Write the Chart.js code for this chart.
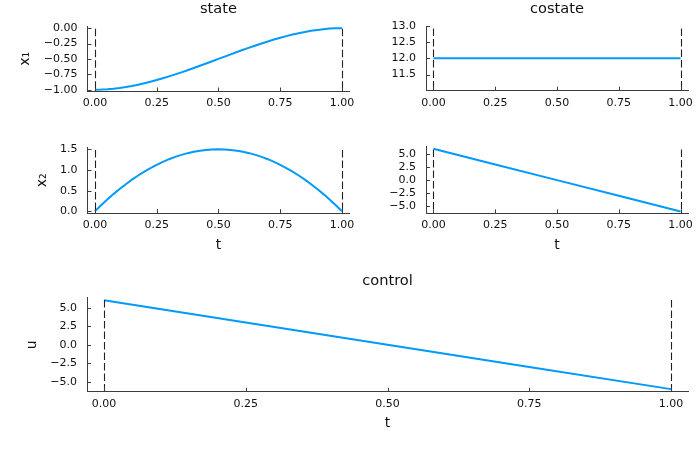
<!DOCTYPE html>
<html>
<head>
<meta charset="utf-8">
<script src="https://cdn.jsdelivr.net/npm/chart.js@4.4.0/dist/chart.umd.min.js"></script>
<style>
html,body{margin:0;padding:0;background:#ffffff;}
#wrap{position:relative;width:700px;height:450px;overflow:hidden;background:#fff;}
.box{position:absolute;}
canvas{display:block;}
</style>
</head>
<body>
<div id="wrap">
  <div class="box" style="left:0px;top:0px;width:360px;height:130px"><canvas id="cState1" width="360" height="130" style="width:360px;height:130px"></canvas></div>
  <div class="box" style="left:360px;top:0px;width:340px;height:130px"><canvas id="cCostate1" width="340" height="130" style="width:340px;height:130px"></canvas></div>
  <div class="box" style="left:0px;top:130px;width:360px;height:130px"><canvas id="cState2" width="360" height="130" style="width:360px;height:130px"></canvas></div>
  <div class="box" style="left:360px;top:130px;width:340px;height:130px"><canvas id="cCostate2" width="340" height="130" style="width:340px;height:130px"></canvas></div>
  <div class="box" style="left:0px;top:260px;width:700px;height:190px"><canvas id="cControl" width="700" height="190" style="width:700px;height:190px"></canvas></div>
</div>
<script>
// ---------------- data ----------------
const tState = [0, 0.025, 0.05, 0.075, 0.1, 0.125, 0.15, 0.175, 0.2, 0.225, 0.25, 0.275, 0.3, 0.325, 0.35, 0.375, 0.4, 0.425, 0.45, 0.475, 0.5,
                0.525, 0.55, 0.575, 0.6, 0.625, 0.65, 0.675, 0.7, 0.725, 0.75, 0.775, 0.8, 0.825, 0.85, 0.875, 0.9, 0.925, 0.95, 0.975, 1];
const x1Values = [-1, -0.9982, -0.9928, -0.984, -0.972, -0.957, -0.9393, -0.9188, -0.896, -0.8709, -0.8438, -0.8147, -0.784, -0.7518, -0.7183, -0.6836, -0.648, -0.6117, -0.5748, -0.5375, -0.5,
                  -0.4625, -0.4253, -0.3883, -0.352, -0.3164, -0.2818, -0.2482, -0.216, -0.1853, -0.1563, -0.1291, -0.104, -0.0812, -0.0608, -0.043, -0.028, -0.016, -0.0073, -0.0018, 0];
const x2Values = [0, 0.146, 0.285, 0.416, 0.54, 0.656, 0.765, 0.866, 0.96, 1.046, 1.125, 1.196, 1.26, 1.316, 1.365, 1.406, 1.44, 1.466, 1.485, 1.496, 1.5,
                  1.496, 1.485, 1.466, 1.44, 1.406, 1.365, 1.316, 1.26, 1.196, 1.125, 1.046, 0.96, 0.866, 0.765, 0.656, 0.54, 0.416, 0.285, 0.146, 0];
const tLinear = [0, 0.25, 0.5, 0.75, 1];
const p1Values = [12, 12, 12, 12, 12];
const p2Values = [6, 3, 0, -3, -6];
const uValues  = [6, 3, 0, -3, -6];
const vlineTimes = [0, 1];

const xLimits = [-0.03, 1.03];
const xTickValues = [0, 0.25, 0.5, 0.75, 1];
const xTickLabels = ['0.00', '0.25', '0.50', '0.75', '1.00'];

const x1Limits = [-1.03, 0.03];
const x1TickValues = [-1, -0.75, -0.5, -0.25, 0];
const x1TickLabels = ['\u22121.00', '\u22120.75', '\u22120.50', '\u22120.25', '0.00'];

const p1Limits = [11, 13];
const p1TickValues = [11.5, 12, 12.5, 13];
const p1TickLabels = ['11.5', '12.0', '12.5', '13.0'];

const x2Limits = [-0.045, 1.545];
const x2TickValues = [0, 0.5, 1, 1.5];
const x2TickLabels = ['0.0', '0.5', '1.0', '1.5'];

const p2Limits = [-6.36, 6.36];
const p2TickValues = [-5, -2.5, 0, 2.5, 5];
const p2TickLabels = ['\u22125.0', '\u22122.5', '0.0', '2.5', '5.0'];

const uLimits = [-6.36, 6.36];
const uTickValues = [-5, -2.5, 0, 2.5, 5];
const uTickLabels = ['\u22125.0', '\u22122.5', '0.0', '2.5', '5.0'];

// ---------------- styling ----------------
const FONT = "'DejaVu Sans', sans-serif";
const LINE_COLOR = '#009AFA';
const AXIS_COLOR = '#3c3c3c';
const TEXT_COLOR = '#111111';
Chart.defaults.color = TEXT_COLOR;
Chart.defaults.font.family = FONT;

const vlinePlugin = {
  id: 'vlines',
  afterDatasetsDraw(chart) {
    const { ctx, chartArea: a, scales: { x } } = chart;
    ctx.save();
    ctx.strokeStyle = '#222222';
    ctx.lineWidth = 1.1;
    ctx.setLineDash([7.5, 3]);
    ctx.lineDashOffset = 8;
    vlineTimes.forEach(t => {
      const px = Math.round(x.getPixelForValue(t)) + 0.5;
      ctx.beginPath();
      ctx.moveTo(px, a.top);
      ctx.lineTo(px, a.bottom);
      ctx.stroke();
    });
    ctx.restore();
  }
};

const inwardTicks = {
  id: 'inwardTicks',
  afterDraw(chart) {
    const { ctx, chartArea: a, scales: { x, y } } = chart;
    ctx.save();
    ctx.strokeStyle = AXIS_COLOR;
    ctx.lineWidth = 1;
    ctx.beginPath();
    x.ticks.forEach(t => {
      const px = Math.round(x.getPixelForValue(t.value)) + 0.5;
      ctx.moveTo(px, a.bottom);
      ctx.lineTo(px, a.bottom - 4);
    });
    y.ticks.forEach(t => {
      const py = Math.round(y.getPixelForValue(t.value)) + 0.5;
      ctx.moveTo(a.left, py);
      ctx.lineTo(a.left + 4, py);
    });
    ctx.stroke();
    ctx.restore();
  }
};

function makeChart(id, o) {
  const points = o.times.map((t, i) => ({ x: t, y: o.values[i] }));
  return new Chart(document.getElementById(id), {
    type: 'line',
    data: {
      datasets: [{
        data: points,
        borderColor: LINE_COLOR,
        borderWidth: 2,
        pointRadius: 0,
        fill: false,
        tension: 0
      }]
    },
    options: {
      responsive: false,
      animation: false,
      events: [],
      layout: { padding: { left: 0, right: o.padRight, top: o.padTop, bottom: 0 } },
      plugins: {
        legend: { display: false },
        tooltip: { enabled: false },
        title: {
          display: !!o.title,
          text: o.title || '',
          fullSize: false,
          color: TEXT_COLOR,
          font: { family: FONT, size: 14.6, weight: 'normal', lineHeight: 1.2 },
          padding: o.titlePad || { top: 0, bottom: 0 }
        }
      },
      scales: {
        x: {
          type: 'linear',
          min: xLimits[0],
          max: xLimits[1],
          grid: { display: false, drawTicks: false },
          border: { display: true, color: AXIS_COLOR, width: 1 },
          afterBuildTicks: s => { s.ticks = xTickValues.map(v => ({ value: v })); },
          afterFit: s => { s.height = o.xH; },
          ticks: {
            padding: o.xTickPad,
            color: TEXT_COLOR,
            font: { family: FONT, size: 11 },
            maxRotation: 0,
            autoSkip: false,
            callback: (v, i) => xTickLabels[i]
          },
          title: {
            display: !!o.xTitle,
            text: o.xTitle || '',
            color: TEXT_COLOR,
            font: { family: FONT, size: 14, lineHeight: 1.2 },
            padding: { top: 0, bottom: o.xTitlePadB || 0 }
          }
        },
        y: {
          type: 'linear',
          min: o.limits[0],
          max: o.limits[1],
          grid: { display: false, drawTicks: false },
          border: { display: true, color: AXIS_COLOR, width: 1 },
          afterBuildTicks: s => { s.ticks = o.tickValues.map(v => ({ value: v })); },
          afterFit: s => { s.width = o.yW; },
          ticks: {
            padding: 10,
            color: TEXT_COLOR,
            font: { family: FONT, size: 11 },
            autoSkip: false,
            callback: (v, i) => o.tickLabels[i]
          },
          title: {
            display: !!o.yTitle,
            text: o.yTitle || '',
            color: TEXT_COLOR,
            font: { family: FONT, size: 14, lineHeight: 1.2 },
            padding: { top: o.yTitlePadT || 0, bottom: 0 }
          }
        }
      }
    },
    plugins: [vlinePlugin, inwardTicks]
  });
}

makeChart('cState1', {
  times: tState, values: x1Values, limits: x1Limits, tickValues: x1TickValues, tickLabels: x1TickLabels,
  title: 'state', titlePad: { top: 0, bottom: 8.8 }, yTitle: 'x\u2081', yTitlePadT: 16.9,
  yW: 87.5, xH: 38.5, padRight: 10.6, padTop: 0, xTickPad: 5.5
});
makeChart('cCostate1', {
  times: tLinear, values: p1Values, limits: p1Limits, tickValues: p1TickValues, tickLabels: p1TickLabels,
  title: 'costate', titlePad: { top: 0, bottom: 8.5 },
  yW: 66, xH: 39.3, padRight: 12, padTop: 0, xTickPad: 5.5
});
makeChart('cState2', {
  times: tState, values: x2Values, limits: x2Limits, tickValues: x2TickValues, tickLabels: x2TickLabels,
  yTitle: 'x\u2082', yTitlePadT: 34.1, xTitle: 't', xTitlePadB: 6.3,
  yW: 87.5, xH: 46.8, padRight: 10.6, padTop: 17.4, xTickPad: 5.5
});
makeChart('cCostate2', {
  times: tLinear, values: p2Values, limits: p2Limits, tickValues: p2TickValues, tickLabels: p2TickLabels,
  xTitle: 't', xTitlePadB: 6.3,
  yW: 66, xH: 46.6, padRight: 12, padTop: 16.9, xTickPad: 5.5
});
makeChart('cControl', {
  times: tLinear, values: uValues, limits: uLimits, tickValues: uTickValues, tickLabels: uTickLabels,
  title: 'control', titlePad: { top: 12.8, bottom: 7.3 }, yTitle: 'u', yTitlePadT: 24.1,
  xTitle: 't', xTitlePadB: 18.3,
  yW: 87, xH: 58.2, padRight: 12, padTop: 0, xTickPad: 6
});
</script>
</body>
</html>
